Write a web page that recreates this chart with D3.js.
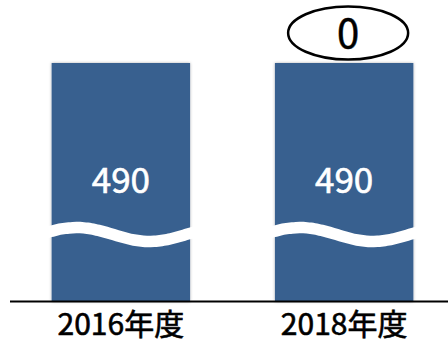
<!DOCTYPE html>
<html>
<head>
<meta charset="utf-8">
<script src="https://cdn.jsdelivr.net/npm/d3@7"></script>
<style>
  body { margin: 0; background: #fff; }
  text { font-family: "Noto Sans CJK JP", "Noto Sans", sans-serif; }
</style>
</head>
<body>
<div id="chart"></div>
<script>
// chart data
const categories = ["2016年度", "2018年度"];
const values = [490, 490];
const diffLabel = "0";

const width = 448, height = 343;
const baseY = 301.5, topY = 63;

const svg = d3.select("#chart").append("svg")
    .attr("width", width)
    .attr("height", height);

// soft side shadow on bars
const defs = svg.append("defs");
defs.append("filter")
    .attr("id", "shadow")
    .attr("x", "-10%").attr("y", "-10%")
    .attr("width", "120%").attr("height", "120%")
    .append("feDropShadow")
    .attr("dx", 0).attr("dy", 0)
    .attr("stdDeviation", 1.6)
    .attr("flood-color", "#000")
    .attr("flood-opacity", 0.3);

const x = d3.scaleBand()
    .domain(categories)
    .range([7, 458])
    .paddingInner(0.38)
    .paddingOuter(0.2);

// broken axis: bar heights are not to scale
const y = d3.scaleLinear()
    .domain([0, 490])
    .range([baseY, topY]);

const data = categories.map((c, i) => ({cat: c, val: values[i]}));

// bars
svg.selectAll(".bar")
    .data(data)
    .enter().append("rect")
    .attr("class", "bar")
    .attr("x", d => x(d.cat))
    .attr("y", d => y(d.val))
    .attr("width", x.bandwidth())
    .attr("height", d => baseY - y(d.val))
    .attr("fill", "#37608f")
    .attr("filter", "url(#shadow)");

// wavy break lines
const waveLine = d3.line().curve(d3.curveBasis);
svg.selectAll(".wave")
    .data(data)
    .enter().append("path")
    .attr("class", "wave")
    .attr("d", d => {
        const x0 = x(d.cat) - 5, x1 = x(d.cat) + x.bandwidth() + 5;
        const pts = d3.range(0, 41).map(k => {
            const px = x0 + (x1 - x0) * k / 40;
            const t = (px - x(d.cat) - 25) / 146 * 2 * Math.PI;
            return [px, 234.5 - 7 * Math.cos(t)];
        });
        return waveLine(pts);
    })
    .attr("fill", "none")
    .attr("stroke", "#fff")
    .attr("stroke-width", 11.5);

// value labels
svg.selectAll(".val")
    .data(data)
    .enter().append("text")
    .attr("class", "val")
    .attr("x", d => x(d.cat) + x.bandwidth() / 2)
    .attr("y", 193)
    .attr("text-anchor", "middle")
    .attr("font-size", 35)
    .attr("fill", "#fff")
    .attr("stroke", "#fff")
    .attr("stroke-width", 0.6)
    .text(d => d.val);

// baseline
svg.append("line")
    .attr("x1", 10).attr("x2", width)
    .attr("y1", baseY).attr("y2", baseY)
    .attr("stroke", "#000")
    .attr("stroke-width", 2);

// category labels
svg.selectAll(".cat")
    .data(categories)
    .enter().append("text")
    .attr("class", "cat")
    .attr("x", d => x(d) + x.bandwidth() / 2)
    .attr("y", 335)
    .attr("text-anchor", "middle")
    .attr("font-size", 30)
    .attr("fill", "#000")
    .attr("stroke", "#000")
    .attr("stroke-width", 0.6)
    .text(d => d);

// difference callout above the second bar
const cx = x(categories[1]) + x.bandwidth() / 2 + 4;
svg.append("ellipse")
    .attr("cx", cx).attr("cy", 33)
    .attr("rx", 60).attr("ry", 26.5)
    .attr("fill", "#fff")
    .attr("stroke", "#000")
    .attr("stroke-width", 2.5);
svg.append("text")
    .attr("x", cx)
    .attr("y", 48)
    .attr("text-anchor", "middle")
    .attr("font-size", 40)
    .attr("fill", "#000")
    .attr("stroke", "#000")
    .attr("stroke-width", 0.5)
    .text(diffLabel);
</script>
</body>
</html>
